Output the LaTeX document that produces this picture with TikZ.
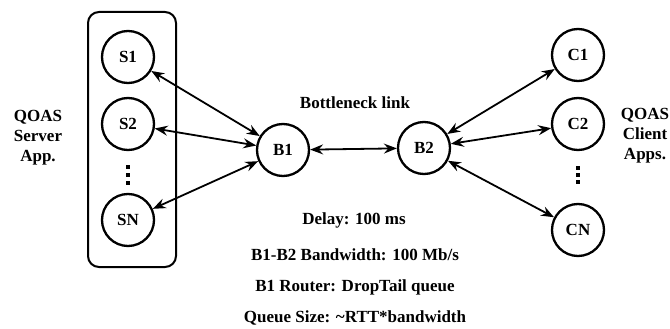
\documentclass[tikz,border=0pt]{standalone}
\usepackage{fontspec}
\setmainfont{Liberation Serif}
\usetikzlibrary{arrows.meta}
\begin{document}
\begin{tikzpicture}[x=1pt,y=-1pt,
  host/.style={circle,draw,line width=2.3pt,minimum size=52pt,inner sep=0pt,font=\bfseries\fontsize{17}{20}\selectfont},
  tip/.tip={Stealth[length=13pt,width=10pt,inset=4.5pt]},
  link/.style={line width=1.8pt,tip-tip},
  lbl/.style={font=\bfseries\fontsize{17}{20}\selectfont,align=center},
  dot/.style={fill,minimum size=3.8pt,inner sep=0pt}]
\useasboundingbox (0,0) rectangle (670,329);
% server group frame
\draw[line width=2pt,rounded corners=11pt] (88,12) rectangle (176,267);
% hosts
\node[host] (S1) at (128,57) {S1};
\node[host] (S2) at (128,124) {S2};
\node[host] (SN) at (128,220) {SN};
\node[host] (B1) at (283,150) {B1};
\node[host] (B2) at (424,148) {B2};
\node[host] (C1) at (578,55) {C1};
\node[host] (C2) at (578,124) {C2};
\node[host] (CN) at (578,230) {CN};
% vertical ellipses between hosts
\foreach \y [count=\i] in {167,175,183} \node[dot] (sd\i) at (128,\y) {};
\foreach \y [count=\i] in {168,175,182} \node[dot] (cd\i) at (578,\y) {};
% links
\draw[link] (S1) -- (B1);
\draw[link] (S2) -- (B1);
\draw[link] (SN) -- (B1);
\draw[link] (B1) -- (B2);
\draw[link] (B2) -- (C1);
\draw[link] (B2) -- (C2);
\draw[link] (B2) -- (CN);
% labels
\node[lbl] (srv) at (38,138) {QOAS\\Server\\App.};
\node[lbl] (cli) at (645,136) {QOAS\\Client\\Apps.};
\node[lbl] (bn) at (355,103) {Bottleneck link};
\node[lbl] (p1) at (354,220) {Delay: 100 ms};
\node[lbl] (p2) at (355,255) {B1-B2 Bandwidth: 100 Mb/s};
\node[lbl] (p3) at (355,287) {B1 Router: DropTail queue};
\node[lbl] (p4) at (355,318) {Queue Size: \textasciitilde RTT*bandwidth};
\end{tikzpicture}
\end{document}
